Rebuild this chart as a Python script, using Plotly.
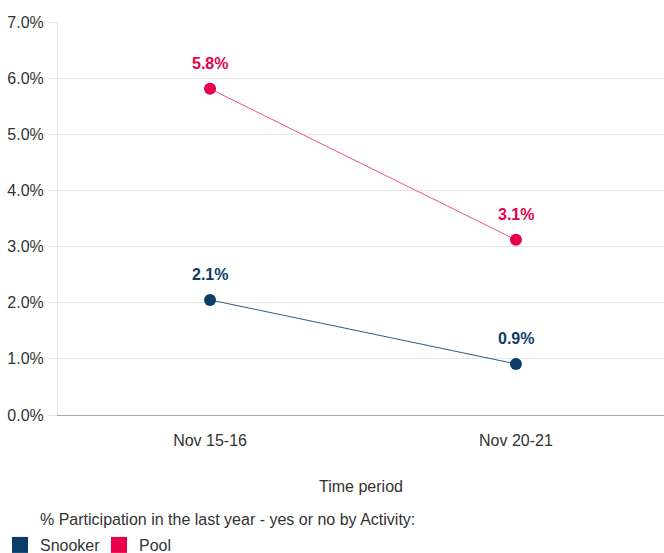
import plotly.graph_objects as go

periods = ["Nov 15-16", "Nov 20-21"]
snooker = [2.05, 0.91]
pool = [5.81, 3.12]
snooker_labels = ["2.1%", "0.9%"]
pool_labels = ["5.8%", "3.1%"]
y_ticks = [0, 1, 2, 3, 4, 5, 6, 7]
y_ticktext = ["0.0%", "1.0%", "2.0%", "3.0%", "4.0%", "5.0%", "6.0%", "7.0%"]

SNOOKER_C = "#0b3d66"
POOL_C = "#e8004c"
FONT = "Liberation Sans, Arial, sans-serif"
TXT = "#333333"

W, H = 664, 553
ml, mr, mt, mb = 58, 0, 22, 138
pw, ph = W - ml - mr, H - mt - mb

fig = go.Figure()
for name, vals, col, lcol in [("Snooker", snooker, SNOOKER_C, "#2f5a80"), ("Pool", pool, POOL_C, "#f0508a")]:
    fig.add_trace(go.Scatter(x=periods, y=vals, mode="lines+markers", name=name,
                             line=dict(color=lcol, width=1),
                             marker=dict(color=col, size=12),
                             showlegend=False, hoverinfo="skip"))
for name, col in [("Snooker", SNOOKER_C), ("Pool", POOL_C)]:
    fig.add_trace(go.Scatter(x=[None], y=[None], mode="markers", name=name,
                             marker=dict(color=col, size=16, symbol="square"),
                             showlegend=True))

annotations = []
for vals, labels, col in [(snooker, snooker_labels, SNOOKER_C), (pool, pool_labels, POOL_C)]:
    for p, v, t in zip(periods, vals, labels):
        annotations.append(dict(x=p, y=v, text="<b>" + t + "</b>", showarrow=False,
                                yshift=25, font=dict(color=col, size=16, family=FONT)))
annotations.append(dict(x=(38 - ml) / pw, y=(H - mb - 519) / ph, xref="paper", yref="paper",
                        text="% Participation in the last year - yes or no by Activity:",
                        showarrow=False, xanchor="left", yanchor="middle",
                        font=dict(size=16, color=TXT, family=FONT)))

fig.update_layout(
    width=W, height=H,
    margin=dict(l=ml, r=mr, t=mt, b=mb, autoexpand=False),
    plot_bgcolor="white", paper_bgcolor="white",
    font=dict(family=FONT, size=16, color=TXT),
    annotations=annotations,
    xaxis=dict(range=[-0.497, 1.484], showgrid=False, showline=True, linecolor="#aaaaaa",
               ticks="", tickfont=dict(size=16, color=TXT), ticklabelstandoff=11,
               title=dict(text="Time period", font=dict(size=16, color=TXT), standoff=32),
               zeroline=False, fixedrange=True),
    yaxis=dict(range=[0, 7], tickvals=y_ticks, ticktext=y_ticktext, showgrid=True,
               gridcolor="#e6e6e6", ticks="outside", ticklen=10, tickcolor="#e6e6e6",
               showline=True, linecolor="#e6e6e6", zeroline=False,
               tickfont=dict(size=16, color=TXT), fixedrange=True),
    legend=dict(orientation="h", x=(0 - ml) / pw, y=(H - mb - 545) / ph, xanchor="left", yanchor="middle",
                font=dict(size=16, color=TXT), itemwidth=30, tracegroupgap=0,
                entrywidth=54, entrywidthmode="pixels"),
    showlegend=True,
)

fig.write_html("out.html")
